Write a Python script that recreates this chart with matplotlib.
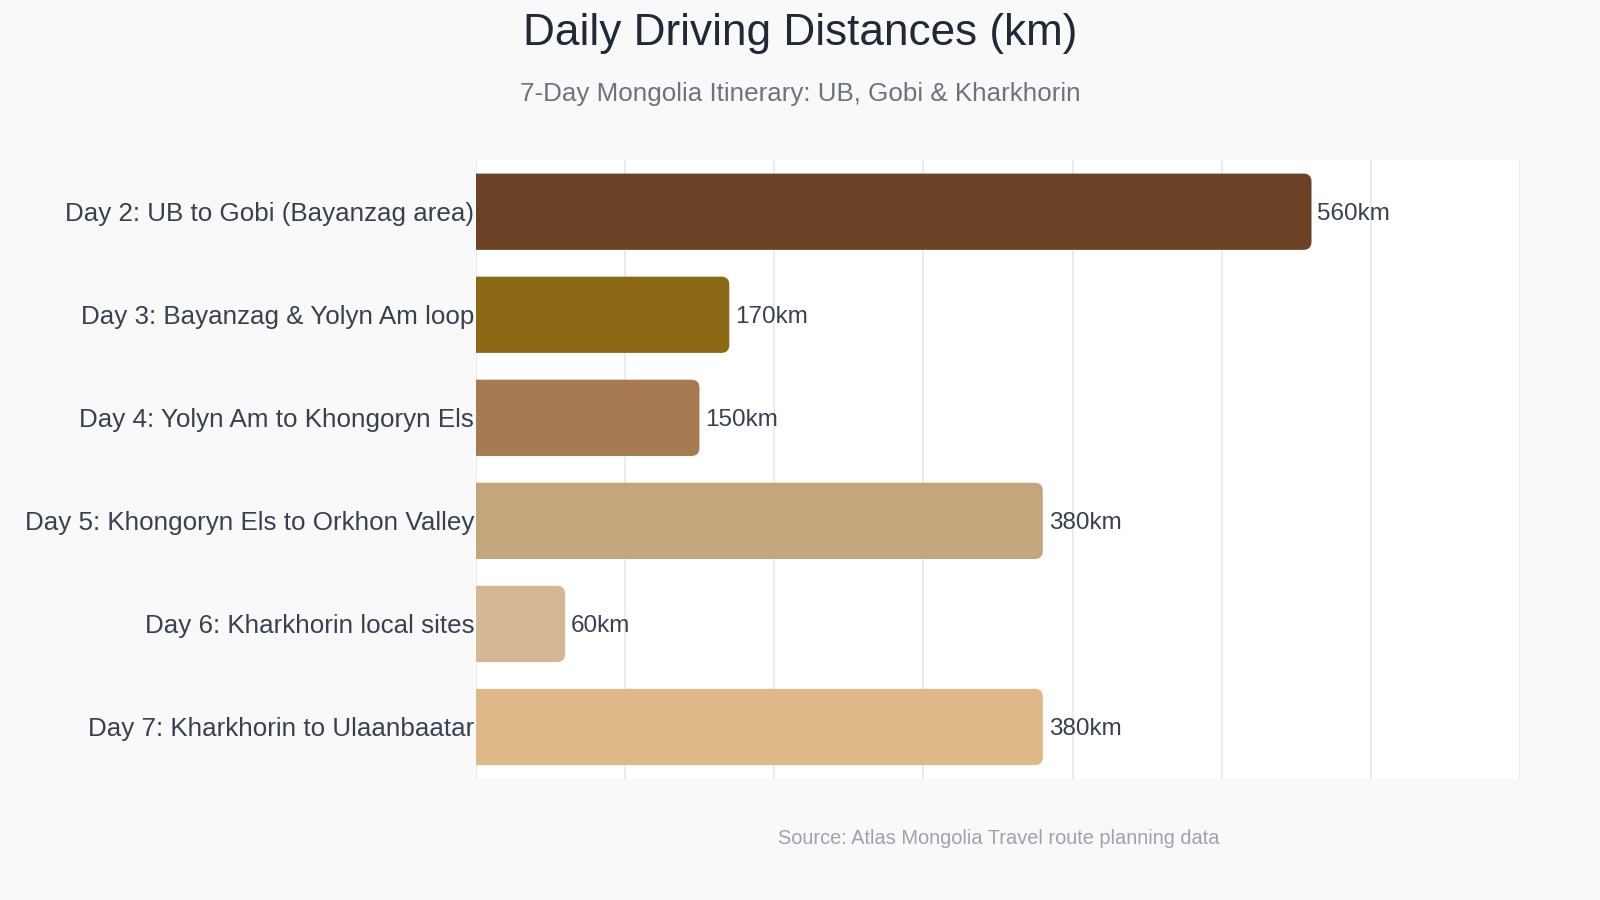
import matplotlib.pyplot as plt
from matplotlib.patches import PathPatch
from matplotlib.path import Path

plt.rcParams['font.family'] = ['Liberation Sans', 'DejaVu Sans']

days = [
    'Day 2: UB to Gobi (Bayanzag area)',
    'Day 3: Bayanzag & Yolyn Am loop',
    'Day 4: Yolyn Am to Khongoryn Els',
    'Day 5: Khongoryn Els to Orkhon Valley',
    'Day 6: Kharkhorin local sites',
    'Day 7: Kharkhorin to Ulaanbaatar',
]
distances = [560, 170, 150, 380, 60, 380]
colors = ['#6B4226', '#8B6914', '#A67B51', '#C4A67C', '#D4B795', '#DEB887']

fig = plt.figure(figsize=(16, 9), dpi=100, facecolor='#F9F9F9')
ax = fig.add_axes([0.2972, 0.135, 0.6531, 0.687])
ax.set_facecolor('white')

y = list(range(len(days)))
bars = ax.barh(y, distances, height=0.74, color=colors)
ax.set_xlim(0, 700)
ax.set_ylim(len(days) - 0.5, -0.5)

# rounded right end: replace each bar by one path with square left corners
fig.canvas.draw()
inv = ax.transData.inverted()
x0, y0 = inv.transform((0, 0))
x1, y1 = inv.transform((1, 1))
radius_px = 8
rx = radius_px * abs(x1 - x0)
ry = radius_px * abs(y1 - y0)
for b in bars:
    bx, by, bw, bh = b.get_x(), b.get_y(), b.get_width(), b.get_height()
    col = b.get_facecolor()
    b.set_visible(False)
    xr = bx + bw
    verts = [(bx, by), (xr - rx, by), (xr, by), (xr, by + ry),
             (xr, by + bh - ry), (xr, by + bh), (xr - rx, by + bh),
             (bx, by + bh), (bx, by)]
    codes = [Path.MOVETO, Path.LINETO, Path.CURVE3, Path.CURVE3,
             Path.LINETO, Path.CURVE3, Path.CURVE3, Path.LINETO, Path.CLOSEPOLY]
    ax.add_patch(PathPatch(Path(verts, codes), facecolor=col,
                           edgecolor='none', zorder=2))

for yi, d in zip(y, distances):
    ax.text(d + 4, yi, f'{d}km', va='center_baseline', ha='left', fontsize=17.5,
            color='#374151', zorder=3)

ax.set_xticks(range(0, 701, 100))
ax.set_xticklabels([])
ax.tick_params(axis='x', length=0)
ax.grid(axis='x', color='#E5E7EB', linewidth=1.2, zorder=0)
ax.set_axisbelow(True)
ax.set_yticks(y)
ax.set_yticklabels(days, fontsize=18.7, color='#374151')
ax.tick_params(axis='y', length=0, pad=1)
for s in ax.spines.values():
    s.set_visible(False)

fig.text(0.5, 0.963, 'Daily Driving Distances (km)', ha='center', va='center',
         fontsize=31.8, color='#1F2937')
fig.text(0.5, 0.895, '7-Day Mongolia Itinerary: UB, Gobi & Kharkhorin',
         ha='center', va='center', fontsize=18.7, color='#6B7280')
fig.text(0.624, 0.068, 'Source: Atlas Mongolia Travel route planning data',
         ha='center', va='center', fontsize=14.4, color='#9CA3AF')

fig.savefig('out.png', dpi=100, facecolor=fig.get_facecolor())
